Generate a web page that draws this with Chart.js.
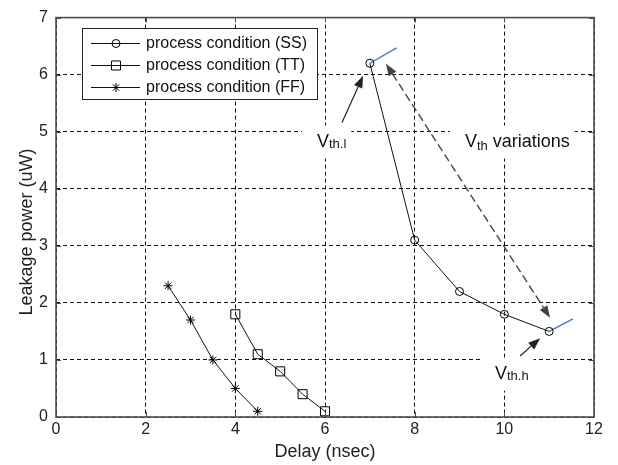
<!DOCTYPE html>
<html>
<head>
<meta charset="utf-8">
<script src="https://cdn.jsdelivr.net/npm/chart.js@4.4.1/dist/chart.umd.min.js"></script>
<style>
	html, body { margin: 0; padding: 0; background: #fff; }
	#grafico { display: block; }
</style>
</head>
<body>
<canvas id="grafico" width="618" height="465"></canvas>
<script>
// valores: atraso (nsec) x potencia de fuga (uW)
var delaySS = [7, 8, 9, 10, 11];
var leakSS = [6.2, 3.1, 2.2, 1.8, 1.5];
var delayTT = [4, 4.5, 5, 5.5, 6];
var leakTT = [1.8, 1.1, 0.8, 0.4, 0.1];
var delayFF = [2.5, 3, 3.5, 4, 4.5];
var leakFF = [2.3, 1.7, 1.0, 0.5, 0.1];

// segmentos azuis nas pontas da curva SS
var vthLowX = [7, 7.6];
var vthLowY = [6.2, 6.47];
var vthHighX = [11, 11.53];
var vthHighY = [1.5, 1.72];

var xTicks = [0, 2, 4, 6, 8, 10, 12];
var yTicks = [0, 1, 2, 3, 4, 5, 6, 7];

var legendLabels = ['process condition (SS)', 'process condition (TT)', 'process condition (FF)'];
var legendStyles = ['circle', 'rect', 'star'];

// anotacoes em unidades dos eixos
var arrowL = [6.38, 5.16, 6.85, 5.98];
var arrowH = [10.35, 1.07, 10.8, 1.38];
var arrowVar = [7.36, 6.19, 11.02, 1.74];
var labels = [
	{ x: 5.82, y: 4.74, main: 'V', sub: 'th.l', rest: '', drop: 1 },
	{ x: 9.12, y: 4.74, main: 'V', sub: 'th', rest: ' variations', drop: 3 },
	{ x: 9.79, y: 0.67, main: 'V', sub: 'th.h', rest: '', drop: 1 }
];

var FONTE = "'Liberation Sans', Arial, Helvetica, sans-serif";

function pontos(xs, ys) {
	return xs.map(function(x, i) { return { x: x, y: ys[i] }; });
}

function serie(xs, ys, estilo, raio) {
	return {
		data: pontos(xs, ys),
		borderColor: '#111',
		borderWidth: 1,
		pointStyle: estilo,
		pointRadius: raio,
		pointHoverRadius: raio,
		pointBorderColor: '#000',
		pointBackgroundColor: 'rgba(0,0,0,0)',
		pointBorderWidth: 1,
		tension: 0
	};
}

function azul(xs, ys) {
	return {
		data: pontos(xs, ys),
		borderColor: '#4a72d4',
		borderWidth: 1.3,
		pointRadius: 0,
		pointHoverRadius: 0,
		tension: 0
	};
}

function pontaSeta(ctx, x1, y1, x2, y2) {
	var ang = Math.atan2(y2 - y1, x2 - x1);
	var L = 12, W = 4.5;
	var bx = x2 - L * Math.cos(ang), by = y2 - L * Math.sin(ang);
	ctx.beginPath();
	ctx.moveTo(x2, y2);
	ctx.lineTo(bx + W * Math.sin(ang), by - W * Math.cos(ang));
	ctx.lineTo(bx - W * Math.sin(ang), by + W * Math.cos(ang));
	ctx.closePath();
	ctx.fill();
	return [bx, by];
}

function seta(ctx, xs, ys, a, dupla, tracejada) {
	var x1 = xs.getPixelForValue(a[0]), y1 = ys.getPixelForValue(a[1]);
	var x2 = xs.getPixelForValue(a[2]), y2 = ys.getPixelForValue(a[3]);
	ctx.save();
	ctx.strokeStyle = tracejada ? '#444' : '#222';
	ctx.fillStyle = ctx.strokeStyle;
	ctx.lineWidth = tracejada ? 1.4 : 1.2;
	var fim = pontaSeta(ctx, x1, y1, x2, y2);
	var ini = dupla ? pontaSeta(ctx, x2, y2, x1, y1) : [x1, y1];
	if (tracejada) ctx.setLineDash([8, 4]);
	ctx.beginPath();
	ctx.moveTo(ini[0], ini[1]);
	ctx.lineTo(fim[0], fim[1]);
	ctx.stroke();
	ctx.restore();
}

function rotulo(ctx, xs, ys, r) {
	var x = xs.getPixelForValue(r.x), y = ys.getPixelForValue(r.y);
	var fMain = '18px ' + FONTE, fSub = '13px ' + FONTE;
	ctx.save();
	ctx.font = fMain;
	var wMain = ctx.measureText(r.main).width;
	var wRest = ctx.measureText(r.rest).width;
	ctx.font = fSub;
	var wSub = ctx.measureText(r.sub).width;
	var total = wMain + wSub + wRest;
	ctx.fillStyle = '#fff';
	ctx.fillRect(x - 15, y - 21, total + 20, 33);
	ctx.fillStyle = '#111';
	ctx.textBaseline = 'alphabetic';
	ctx.textAlign = 'left';
	ctx.font = fMain;
	ctx.fillText(r.main, x, y);
	ctx.fillText(r.rest, x + wMain + wSub, y);
	ctx.font = fSub;
	ctx.fillText(r.sub, x + wMain, y + r.drop);
	ctx.restore();
}

function legenda(ctx) {
	var x0 = 82, y0 = 28, w = 235, h = 71;
	ctx.save();
	ctx.fillStyle = '#fff';
	ctx.fillRect(x0, y0, w, h);
	ctx.strokeStyle = '#222';
	ctx.lineWidth = 1;
	ctx.strokeRect(x0 + 0.5, y0 + 0.5, w, h);
	legendLabels.forEach(function(texto, i) {
		var y = y0 + 15 + i * 22;
		ctx.strokeStyle = '#111';
		ctx.beginPath();
		ctx.moveTo(91, y + 0.5);
		ctx.lineTo(140, y + 0.5);
		ctx.stroke();
		ctx.strokeStyle = '#000';
		ctx.fillStyle = 'rgba(0,0,0,0)';
		Chart.helpers.drawPoint(ctx, {
			pointStyle: legendStyles[i],
			radius: legendStyles[i] === 'rect' ? 6.4 : (legendStyles[i] === 'star' ? 4.5 : 4),
			borderWidth: 1,
			rotation: 0
		}, 116, y + 0.5);
		ctx.fillStyle = '#111';
		ctx.font = '16px ' + FONTE;
		ctx.textBaseline = 'middle';
		ctx.fillText(texto, 146, y + 1);
	});
	ctx.restore();
}

var moldura = {
	id: 'moldura',
	beforeDatasetsDraw: function(chart) {
		var ctx = chart.ctx;
		labels.forEach(function(r) {
			rotulo(ctx, chart.scales.x, chart.scales.y, r);
		});
	},
	afterDatasetsDraw: function(chart) {
		var ctx = chart.ctx, xs = chart.scales.x, ys = chart.scales.y;
		seta(ctx, xs, ys, arrowL, false, false);
		seta(ctx, xs, ys, arrowH, false, false);
		seta(ctx, xs, ys, arrowVar, true, true);
	},
	afterDraw: function(chart) {
		var ctx = chart.ctx, a = chart.chartArea;
		var xs = chart.scales.x, ys = chart.scales.y;
		ctx.save();
		ctx.strokeStyle = '#4d4d4d';
		ctx.lineWidth = 1;
		// marcas para dentro, nos quatro lados
		ctx.beginPath();
		xTicks.forEach(function(v) {
			var px = Math.round(xs.getPixelForValue(v)) + 0.5;
			ctx.moveTo(px, a.bottom); ctx.lineTo(px, a.bottom - 5);
			ctx.moveTo(px, a.top); ctx.lineTo(px, a.top + 5);
		});
		yTicks.forEach(function(v) {
			var py = Math.round(ys.getPixelForValue(v)) + 0.5;
			ctx.moveTo(a.left, py); ctx.lineTo(a.left + 5, py);
			ctx.moveTo(a.right, py); ctx.lineTo(a.right - 5, py);
		});
		ctx.stroke();
		ctx.lineWidth = 1.6;
		ctx.strokeRect(a.left, a.top, a.right - a.left, a.bottom - a.top);

		// titulo do eixo y, um pouco abaixo do centro como na figura
		ctx.translate(27, 232);
		ctx.rotate(-Math.PI / 2);
		ctx.fillStyle = '#222';
		ctx.font = '18px ' + FONTE;
		ctx.textAlign = 'center';
		ctx.textBaseline = 'middle';
		ctx.fillText('Leakage power (uW)', 0, 0);
		ctx.restore();
		legenda(ctx);
	}
};

var grafico = new Chart(document.getElementById('grafico').getContext('2d'), {
	type: 'line',
	data: {
		datasets: [
			serie(delaySS, leakSS, 'circle', 4),
			serie(delayTT, leakTT, 'rect', 6.4),
			serie(delayFF, leakFF, 'star', 4.5),
			azul(vthLowX, vthLowY),
			azul(vthHighX, vthHighY)
		]
	},
	options: {
		responsive: false,
		animation: false,
		devicePixelRatio: 1,
		layout: {
			padding: { top: 11, right: 24, left: 0, bottom: 0 }
		},
		plugins: {
			legend: { display: false },
			title: { display: false },
			tooltip: { enabled: false }
		},
		scales: {
			x: {
				type: 'linear',
				min: 0,
				max: 12,
				afterBuildTicks: function(scale) {
					scale.ticks = xTicks.map(function(v) { return { value: v }; });
				},
				afterFit: function(scale) { scale.height = 48; },
				grid: { color: '#111', lineWidth: 1, drawTicks: false },
				border: { display: false, dash: [4, 3] },
				ticks: {
					padding: 3,
					color: '#222',
					maxRotation: 0,
					font: { family: FONTE, size: 16 }
				},
				title: {
					display: true,
					text: 'Delay (nsec)',
					color: '#222',
					padding: { top: 0, bottom: 2 },
					font: { family: FONTE, size: 18 }
				}
			},
			y: {
				type: 'linear',
				min: 0,
				max: 7,
				afterBuildTicks: function(scale) {
					scale.ticks = yTicks.map(function(v) { return { value: v }; });
				},
				afterFit: function(scale) { scale.width = 56; },
				grid: { color: '#111', lineWidth: 1, drawTicks: false },
				border: { display: false, dash: [4, 3] },
				ticks: {
					padding: 8,
					color: '#222',
					font: { family: FONTE, size: 16 }
				},
				title: { display: false }
			}
		}
	},
	plugins: [moldura]
});
</script>
</body>
</html>
